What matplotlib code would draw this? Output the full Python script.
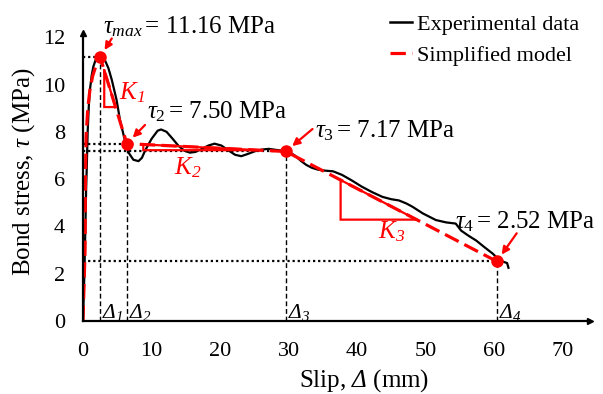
import matplotlib
matplotlib.use("Agg")
import matplotlib.pyplot as plt
from matplotlib.lines import Line2D

plt.rcParams['font.family'] = ['Liberation Serif', 'DejaVu Serif']
plt.rcParams['mathtext.fontset'] = 'custom'
plt.rcParams['mathtext.rm'] = 'Liberation Serif'
plt.rcParams['mathtext.it'] = 'Liberation Serif:italic'
plt.rcParams['mathtext.sf'] = 'Liberation Serif:italic'
plt.rcParams['mathtext.bf'] = 'Liberation Serif:bold'

# Experimental bond stress-slip curve (slip in mm, stress in MPa)
exp_slip = [0.0, 0.2, 0.35, 0.45, 0.55, 0.68, 0.85, 1.0, 1.25, 1.5, 1.85, 2.2,
            2.7, 3.2, 3.7, 4.2, 4.9, 5.4, 6.1, 6.7, 7.35, 8.1, 8.6, 9.05,
            10.0, 10.9, 11.4, 12.2, 13.1, 13.9, 14.8, 15.6, 16.4, 17.3, 18.3,
            19.2, 20.2, 21.2, 22.2, 23.1, 24.1, 25.1, 26.1, 27.1, 28.1, 29.1,
            30.0, 30.9, 31.9, 32.6, 33.4, 34.3, 35.3, 36.5, 37.8, 39.2, 40.7,
            42.2, 43.7, 45.0, 46.1, 47.2, 48.1, 49.6, 51.5, 53.0, 54.4, 55.2,
            56.3, 57.4, 58.6, 59.8, 60.6, 61.4, 61.9, 62.1]
exp_stress = [0.0, 2.0, 4.0, 5.5, 6.5, 8.0, 9.1, 9.75, 10.35, 10.75, 11.05, 11.17,
              11.18, 11.03, 10.7, 10.2, 9.35, 8.5, 7.65, 7.1, 6.82, 6.76, 6.9, 7.2,
              7.7, 8.05, 8.1, 8.0, 7.7, 7.42, 7.2, 7.12, 7.15, 7.27, 7.42,
              7.5, 7.42, 7.22, 7.03, 6.97, 7.07, 7.18, 7.25, 7.28, 7.24, 7.2,
              7.17, 7.0, 6.75, 6.6, 6.48, 6.4, 6.36, 6.33, 6.18, 5.95, 5.68,
              5.45, 5.25, 5.15, 5.1, 4.97, 4.83, 4.55, 4.27, 4.17, 4.12, 3.82,
              3.6, 3.4, 3.12, 2.85, 2.62, 2.5, 2.45, 2.25]

# Simplified model: curved ascending branch followed by three linear branches
model_slip = [0.0, 0.3, 0.35, 0.45, 0.7, 1.0, 1.4, 1.9, 2.5, 6.4, 29.6, 60.4]
model_stress = [0.0, 3.0, 6.0, 7.8, 9.0, 9.75, 10.35, 10.8, 11.16, 7.50, 7.17, 2.52]

# Characteristic points of the model
key_slip = [2.5, 6.4, 29.6, 60.4]
key_stress = [11.16, 7.50, 7.17, 2.52]
key_symbols = [r"$\tau_{max}$", r"$\tau_{2}$", r"$\tau_{3}$", r"$\tau_{4}$"]
slip_symbols = [r"$\mathsf{\Delta_1}$", r"$\mathsf{\Delta_2}$",
                r"$\mathsf{\Delta_3}$", r"$\mathsf{\Delta_4}$"]

# Label placement (left edge x, centre y) and arrow tail for each point
label_pos = [(2.9, 12.43), (9.35, 8.84), (33.8, 8.03), (54.3, 4.19)]
arrow_tail = [(4.2, 11.95), (9.05, 8.29), (33.5, 8.12), (63.3, 3.71)]

# Slope triangles (start and end slip along each linear branch)
stiff_names = [r"$\mathsf{K_1}$", r"$\mathsf{K_2}$", r"$\mathsf{K_3}$"]
stiff_span = [(3.1, 4.75), (8.8, 25.8), (37.6, 48.7)]
stiff_label = [(7.2, 9.64), (15.3, 6.5), (45.0, 3.76)]

x_ticks = [0, 10, 20, 30, 40, 50, 60, 70]
y_ticks = [0, 2, 4, 6, 8, 10, 12]

RED = '#ff0000'

fig = plt.figure(figsize=(6.03, 3.94), dpi=100)
ax = fig.add_axes([83 / 603, 73 / 394, 507 / 603, 288 / 394])
ax.set_xlim(0, 74)
ax.set_ylim(0, 12.18)

for side in ('top', 'right'):
    ax.spines[side].set_visible(False)
for side in ('left', 'bottom'):
    ax.spines[side].set_linewidth(1.6)
    ax.spines[side].set_zorder(6)

# Axis arrow heads
ax.plot(1, 0, marker='>', color='k', markersize=5, transform=ax.get_yaxis_transform(),
        clip_on=False, zorder=7)
ax.plot(0, 1, marker='^', color='k', markersize=5, transform=ax.get_xaxis_transform(),
        clip_on=False, zorder=7)

ax.set_xticks(x_ticks)
ax.set_yticks(y_ticks)
ax.tick_params(axis='both', length=0, labelsize=16)
ax.tick_params(axis='x', pad=15)
ax.tick_params(axis='y', pad=13)

ax.set_xlabel(r"Slip, $\mathsf{\Delta}$ (mm)", fontsize=18)
ax.xaxis.set_label_coords(0.555, -0.208)
ax.xaxis.label.set_verticalalignment('center')
ax.set_ylabel(r"Bond stress, $\tau$ (MPa)", fontsize=18)
ax.yaxis.set_label_coords(-0.118, 0.517)
ax.yaxis.label.set_verticalalignment('center')

# Guide lines to the characteristic points
for s, t in zip(key_slip, key_stress):
    ax.plot([s, s], [0, t], color='k', lw=1.0, linestyle=(0, (3.5, 2)), zorder=2)
    ax.plot([0, s], [t, t], color='k', lw=1.6, linestyle=(0, (1, 1.3)), zorder=2)

# Curves
ax.plot(exp_slip, exp_stress, color='k', lw=1.6, zorder=3, solid_joinstyle='round')
ax.plot(model_slip, model_stress, color=RED, lw=2.3, dashes=(4.8, 2.0), zorder=4)

# Slope triangles drawn on the linear branches
def model_at(x):
    for i in range(len(model_slip) - 1):
        if model_slip[i] <= x <= model_slip[i + 1]:
            x0, x1 = model_slip[i], model_slip[i + 1]
            y0, y1 = model_stress[i], model_stress[i + 1]
            return y0 + (y1 - y0) * (x - x0) / (x1 - x0)
    return model_stress[-1]

for (xa, xb), name, (lx, ly) in zip(stiff_span, stiff_names, stiff_label):
    ya, yb = model_at(xa), model_at(xb)
    ax.plot([xa, xa, xb, xa], [ya, yb, yb, ya], color=RED, lw=1.6, zorder=4,
            solid_joinstyle='miter')
    ax.text(lx, ly, name, color=RED, fontsize=18, ha='center', va='center', zorder=8)

# Characteristic points, their labels and arrows
ax.plot(key_slip, key_stress, 'o', color=RED, markersize=8, zorder=6, clip_on=False)
for s, t, sym, (lx, ly), (tx, ty) in zip(key_slip, key_stress, key_symbols,
                                           label_pos, arrow_tail):
    ax.text(lx, ly, f"{sym}$\\,$= {t:.2f} MPa", fontsize=18, ha='left', va='center',
            zorder=8)
    ax.annotate("", xy=(s, t), xytext=(tx, ty),
                arrowprops=dict(arrowstyle='-|>', color=RED, lw=1.6,
                                mutation_scale=11, shrinkA=0, shrinkB=6),
                zorder=7)

for s, sym in zip(key_slip, slip_symbols):
    ax.text(s + 0.3, 0.13, sym, fontsize=15.5, ha='left', va='baseline', zorder=8)

handles = [Line2D([], [], color='k', lw=1.8),
           Line2D([], [], color=RED, lw=2.3, dashes=(4.8, 2.0))]
fig.legend(handles, ["Experimental data", "Simplified model"],
           loc='upper left', bbox_to_anchor=(390 / 603, 1 - 14 / 394),
           frameon=False, fontsize=16, handlelength=1.0, handletextpad=0.2,
           labelspacing=0.5, borderpad=0, borderaxespad=0)

fig.savefig("out.png", dpi=100)
